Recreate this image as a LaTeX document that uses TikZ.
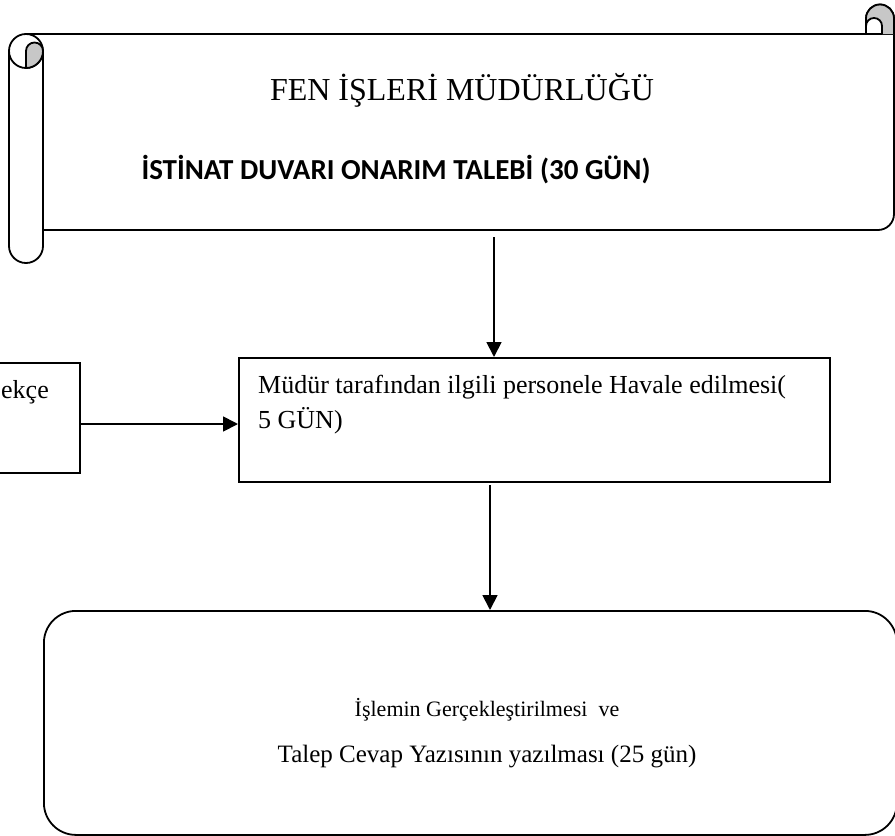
\documentclass[tikz,border=0pt]{standalone}
\usepackage{fontspec}
\setmainfont{Liberation Serif}
\newfontfamily\headfont{Carlito}
\usetikzlibrary{arrows.meta,calc}
\tikzset{
  box/.style={draw, line width=1.8pt, inner sep=0pt},
  flow/.style={line width=1.8pt, -{Triangle[length=15pt,width=15pt]}},
  rollfill/.style={fill=black!22, draw, line width=1.8pt}
}

\begin{document}
\begin{tikzpicture}[x=1pt, y=-1pt]
			%%%%% START %%%%%
			\useasboundingbox (0, 0) rectangle (895, 836);
			\clip (0, 0) rectangle (895, 836);
			
			% scroll
			\draw[line width=1.8pt] (26, 34) -- (894, 34);
			\draw[line width=1.8pt] (866, 34) -- (866, 18.5) arc (180:360:14) -- (894, 214) arc (0:90:16) -- (43, 230);
			\draw[line width=1.8pt] (43, 51) -- (43, 246) arc (0:180:17) -- (9, 51);
			\draw[line width=1.8pt] (26, 51) circle (17);
			\draw[rollfill] (26, 68) -- (26, 51) arc (180:360:8.5) arc (0:90:17) -- cycle;
			\fill[black!22] (866, 26) -- (866, 18.5) arc (180:360:14) -- (894, 34) -- (882, 34) -- (882, 26) arc (0:-180:8) -- cycle;
			\draw[line width=1.8pt] (866, 34) -- (866, 18.5) arc (180:360:14) -- (894, 34);
			\draw[line width=1.8pt] (882, 34) -- (882, 26) arc (0:-180:8);
			
			\node[font=\fontsize{32}{38}\selectfont] (title) at (462, 90) {FEN İŞLERİ MÜDÜRLÜĞÜ};
			\node[font=\headfont\bfseries\fontsize{29}{35}\selectfont] (subtitle) at (396, 170) {İSTİNAT DUVARI ONARIM TALEBİ (30 GÜN)};
			\coordinate (scrollfoot) at (494, 237);
			
			% boxes
			\node[box, minimum width=130, minimum height=110] (petition) at (15, 418) {};
			\node[anchor=east, inner sep=0pt, font=\fontsize{26}{35}\selectfont] (petitiontext) at (49, 392) {ekçe};
			
			\node[box, anchor=north west, minimum width=591, minimum height=124] (task) at (238, 357) {};
			\node[anchor=north west, align=left, inner sep=0pt, font=\fontsize{26}{35}\selectfont] (tasktext) at (258, 375) {Müdür tarafından ilgili personele Havale edilmesi(\\5 GÜN)};
			\coordinate (taskfoot) at (490, 485);
			
			\node[box, rounded corners=32, anchor=north west, minimum width=853, minimum height=224] (result) at (43, 610) {};
			\node[font=\fontsize{22}{26}\selectfont] (resultline) at (487, 710) {İşlemin Gerçekleştirilmesi\ \ ve};
			\node[font=\fontsize{25}{30}\selectfont] (replyline) at (487, 757) {Talep Cevap Yazısının yazılması (25 gün)};
			
			% arrows
			\draw[flow] (scrollfoot) -- (scrollfoot |- task.north);
			\draw[flow] ([yshift=-6]petition.east) -- ([yshift=-6]petition.east -| task.west);
			\draw[flow] (taskfoot) -- (taskfoot |- result.north);
			%%%%% END %%%%%
\end{tikzpicture}
\end{document}
